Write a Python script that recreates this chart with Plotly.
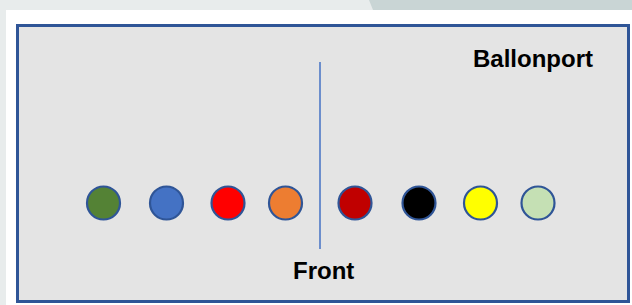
import plotly.graph_objects as go

# Balls in the row (left to right)
ball_names = ["groen", "blauw", "rood", "oranje", "donkerrood", "zwart", "geel", "lichtgroen"]
ball_colors = ["#548235", "#4472c4", "#ff0000", "#ed7d31", "#c00000", "#000000", "#ffff00", "#c5e0b4"]
ball_slots = [103.5, 166.5, 228, 285.5, 355, 419, 480.5, 538]
row_level = [203] * len(ball_names)

labels = ["Ballonport", "Front"]

W, H = 632, 305

fig = go.Figure()

fig.add_trace(go.Scatter(
    x=ball_slots, y=row_level, mode="markers",
    text=ball_names, hoverinfo="text",
    marker=dict(size=33, color=ball_colors, line=dict(color="#2f5597", width=2.2)),
    showlegend=False,
))

shapes = [
    # outer page background
    dict(type="rect", x0=0, x1=W, y0=0, y1=10, fillcolor="#e8ecec", line_width=0, layer="below"),
    dict(type="rect", x0=0, x1=6, y0=0, y1=H, fillcolor="#e8ecec", line_width=0, layer="below"),
    dict(type="path", path="M 369 0 L 632 0 L 632 10 L 373 10 Z", fillcolor="#c9d5d5", line_width=0, layer="below"),
    # main box
    dict(type="rect", x0=17.5, x1=628.5, y0=25.5, y1=301.5, fillcolor="#e4e4e4",
         line=dict(color="#2f5597", width=3), layer="below"),
    # center divider
    dict(type="line", x0=320, x1=320, y0=62, y1=249, line=dict(color="#4472c4", width=1.5), layer="below"),
]

annotations = [
    dict(x=532.5, y=58, text="<b>" + labels[0] + "</b>", showarrow=False, xanchor="center", yanchor="middle",
         font=dict(family="Liberation Sans, Arial", size=24, color="#000000")),
    dict(x=323.5, y=270, text="<b>" + labels[1] + "</b>", showarrow=False, xanchor="center", yanchor="middle",
         font=dict(family="Liberation Sans, Arial", size=24, color="#000000")),
]

fig.update_layout(
    width=W, height=H, autosize=False,
    margin=dict(l=0, r=0, t=0, b=0),
    paper_bgcolor="#ffffff", plot_bgcolor="#ffffff",
    xaxis=dict(range=[0, W], visible=False, fixedrange=True),
    yaxis=dict(range=[H, 0], visible=False, fixedrange=True),
    shapes=shapes, annotations=annotations,
)

fig.write_html(
    "out.html",
    config={"displayModeBar": False},
    post_script="document.body.style.margin='0';document.body.style.overflow='hidden';",
)
